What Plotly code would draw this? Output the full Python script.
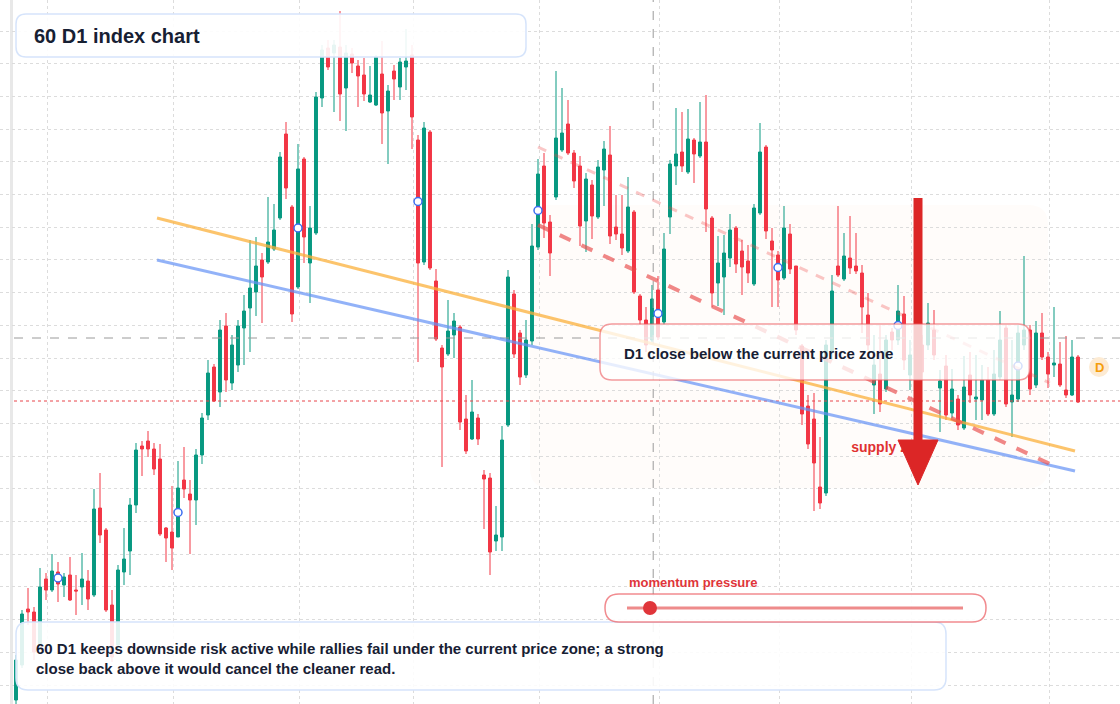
import plotly.graph_objects as go

# ---- data (index price units) ----
opens = [300,335,391,388,355,421,410,428,415,425,410,413,419,405,492,470,395,355,428,449,
         495,554,559,551,541,472,468,463,520,506,500,545,585,633,608,674,617,635,672,692,
         708,740,738,751,782,866,793,713,841,737,767,902,952,947,953,912,946,934,925,898,
         895,926,889,929,913,933,945,860,738,868,719,652,646,665,673,581,561,582,525,522,
         459,463,575,706,667,625,659,753,834,778,803,
         850,876,847,834,779,815,783,830,845,773,766,749,788,704,680,660,710,678,783,834,
         848,828,860,844,858,782,717,723,742,772,749,739,716,787,853,759,745,722,766,734,
         654,594,581,513,507,648,734,721,742,734,727,685,615,626,611,668,660,686,625,660,
         655,655,670,612,634,587,601,572,625,601,600,620,586,623,672,598,601,655,670,615,
         667,643,635,636,610,605,643]
closes = [340,386,388,348,413,410,429,416,423,400,409,421,401,491,465,390,343,430,441,495,
          550,551,551,531,466,462,452,512,511,500,545,582,627,599,670,620,655,674,689,712,
          734,723,758,770,843,812,686,831,763,772,903,950,933,955,906,947,937,924,906,905,
          943,887,909,921,938,939,883,737,872,732,661,633,669,679,578,549,588,561,521,448,
          465,560,723,646,623,660,754,826,777,747,862,
          867,847,819,774,821,784,833,851,764,766,752,793,708,680,655,701,663,751,836,846,
          834,861,846,858,791,707,737,747,770,736,733,727,792,848,769,750,720,772,731,670,
          586,556,537,497,655,709,725,744,732,729,693,655,635,596,660,660,689,640,645,620,
          628,677,645,619,585,611,575,613,605,603,620,586,626,660,596,605,667,670,611,667,
          643,626,637,615,605,643,598]
highs = [345,390,412,393,432,427,446,438,427,443,425,447,430,511,527,472,410,435,472,502,
         557,559,569,557,556,473,514,539,553,520,551,587,640,636,680,687,665,680,705,760,
         763,747,803,796,848,878,795,856,843,794,908,955,960,960,989,955,952,940,942,934,
         945,959,915,935,942,971,955,865,878,870,731,655,700,687,675,605,620,586,530,527,
         494,574,730,710,670,680,776,841,847,785,929,
         912,900,850,844,827,820,840,859,874,805,805,823,790,706,693,715,724,767,840,892,
         888,891,862,898,905,784,764,765,786,774,760,755,796,877,855,772,749,794,776,734,
         656,605,607,563,660,725,794,767,784,767,735,707,665,675,665,672,715,704,660,670,
         665,697,690,630,645,631,605,644,648,645,635,633,650,689,675,660,675,744,675,679,
         687,648,693,658,664,660,645]
lows = [296,332,375,340,350,400,408,398,403,399,385,395,390,403,457,388,338,350,415,425,
        487,524,543,525,464,438,430,463,502,446,475,536,580,598,593,608,610,628,635,648,
        684,677,736,749,780,801,678,711,737,697,765,893,930,888,879,869,927,893,899,897,
        894,856,836,900,900,910,851,638,735,730,659,533,644,642,570,546,560,555,471,425,
        449,449,573,642,615,622,655,750,762,724,800,
        848,845,812,754,748,761,781,794,756,760,745,747,706,675,648,658,660,675,766,815,
        828,826,817,842,768,693,694,685,733,727,705,717,714,785,761,693,693,720,726,665,
        575,551,489,491,504,640,723,719,726,726,667,650,586,588,608,650,655,630,610,605,
        620,650,640,568,580,582,570,570,597,580,580,584,584,620,593,563,598,650,605,612,
        640,612,623,613,602,604,597]
x_idx = list(range(len(closes)))

# chart-level reference values
last_price = 599
crosshair_price = 662
crosshair_index = 106.2
marker_every = 20
marker_start = 7
orange_line = [(23.5, 782), (176.5, 549)]
blue_line = [(23.5, 740), (176.5, 529)]
red_dash_faint = [(87, 853), (172.3, 617)]
red_dash_strong = [(87, 775), (172.7, 535)]
grid_x = [5.17, 26.3, 47.2, 66.3, 87.2, 107.2, 127.2, 149.3, 172.2]

W, H = 1120, 704
def px(x): return x / W
def py(y): return 1 - y / H

def rrect(x0, y0, x1, y1, r):
    def P(a, b): return f"{px(a):.5f},{py(b):.5f}"
    return (f"M {P(x0+r,y0)} L {P(x1-r,y0)} Q {P(x1,y0)} {P(x1,y0+r)} "
            f"L {P(x1,y1-r)} Q {P(x1,y1)} {P(x1-r,y1)} L {P(x0+r,y1)} "
            f"Q {P(x0,y1)} {P(x0,y1-r)} L {P(x0,y0+r)} Q {P(x0,y0)} {P(x0+r,y0)} Z")

GREEN, RED = "#089981", "#f23645"
fig = go.Figure()
fig.add_trace(go.Candlestick(
    x=x_idx, open=opens, high=highs, low=lows, close=closes,
    increasing=dict(line=dict(color=GREEN, width=1), fillcolor=GREEN),
    decreasing=dict(line=dict(color=RED, width=1), fillcolor=RED),
    whiskerwidth=0, showlegend=False, hoverinfo="skip"))

mk = list(range(marker_start, len(closes), marker_every))
fig.add_trace(go.Scatter(
    x=mk, y=[(opens[i] + closes[i]) / 2 for i in mk], mode="markers",
    marker=dict(symbol="circle", size=8, color="white", line=dict(color="#3b6df0", width=1.5)),
    showlegend=False, hoverinfo="skip"))

fig.add_trace(go.Scatter(
    x=[139.2], y=[552], mode="text", text=["<b>supply zone</b>"], textposition="middle right",
    textfont=dict(color="#e03131", size=14, family="Liberation Sans, Arial"),
    showlegend=False, hoverinfo="skip"))

shapes = []
shapes.append(dict(type="rect", xref="paper", yref="paper", x0=px(10), x1=px(13), y0=0, y1=1,
                   fillcolor="#e8e8e8", line=dict(width=0), layer="below"))
shapes.append(dict(type="path", xref="paper", yref="paper", path=rrect(530, 205, 1048, 488, 20),
                   fillcolor="rgba(251,146,60,0.025)", line=dict(width=0), layer="below"))
shapes.append(dict(type="line", xref="paper", yref="y", x0=px(14), x1=1, y0=crosshair_price, y1=crosshair_price,
                   line=dict(color="#9a9a9a", width=1, dash="dash")))
shapes.append(dict(type="line", xref="x", yref="paper", x0=crosshair_index, x1=crosshair_index, y0=0, y1=1,
                   line=dict(color="#9a9a9a", width=1, dash="dash")))
shapes.append(dict(type="line", xref="paper", yref="y", x0=px(14), x1=1, y0=last_price, y1=last_price,
                   line=dict(color="#e8454a", width=1, dash="dot")))
for pts, col, w, dash in [(orange_line, "rgba(251,176,59,0.75)", 3, "solid"),
                          (blue_line, "rgba(100,145,245,0.7)", 3, "solid"),
                          (red_dash_faint, "rgba(239,68,68,0.3)", 3, "dash"),
                          (red_dash_strong, "rgba(232,72,72,0.65)", 4, "dash")]:
    shapes.append(dict(type="line", xref="x", yref="y", x0=pts[0][0], y0=pts[0][1],
                       x1=pts[1][0], y1=pts[1][1], line=dict(color=col, width=w, dash=dash)))
shapes.append(dict(type="line", xref="paper", yref="paper", x0=px(918), x1=px(918), y0=py(198), y1=py(445),
                   line=dict(color="#dc2626", width=9)))
shapes.append(dict(type="path", xref="paper", yref="paper",
                   path=f"M {px(898)},{py(440)} L {px(938)},{py(440)} L {px(918)},{py(485)} Z",
                   fillcolor="#dc2626", line=dict(color="#dc2626", width=1)))
shapes.append(dict(type="path", xref="paper", yref="paper", path=rrect(16, 14, 526, 57, 10),
                   fillcolor="rgba(255,255,255,0.9)", line=dict(color="#d6e4fb", width=1.5)))
shapes.append(dict(type="path", xref="paper", yref="paper", path=rrect(16, 622, 946, 690, 12),
                   fillcolor="rgba(255,255,255,0.88)", line=dict(color="#d6e4fb", width=1.5)))
shapes.append(dict(type="path", xref="paper", yref="paper", path=rrect(600, 324, 1030, 380, 12),
                   fillcolor="rgba(255,255,255,0.78)", line=dict(color="rgba(235,90,95,0.6)", width=1.5)))
shapes.append(dict(type="path", xref="paper", yref="paper", path=rrect(605, 594, 986, 622, 14),
                   fillcolor="rgba(255,255,255,0.9)", line=dict(color="rgba(235,90,95,0.7)", width=1.5)))
shapes.append(dict(type="line", xref="paper", yref="paper", x0=px(627), x1=px(963), y0=py(608), y1=py(608),
                   line=dict(color="rgba(232,100,100,0.75)", width=3)))
shapes.append(dict(type="circle", xref="paper", yref="paper", x0=px(643), x1=px(657), y0=py(601), y1=py(615),
                   fillcolor="#e0353a", line=dict(width=0)))
shapes.append(dict(type="circle", xref="paper", yref="paper", x0=px(1089), x1=px(1109), y0=py(357), y1=py(377),
                   fillcolor="#fdebd3", line=dict(width=0)))

FONT = "Liberation Sans, Arial, sans-serif"
ann = [
    dict(x=px(32), y=py(36), text="<b>60 D1 index chart</b>", font=dict(size=20, color="#172033")),
    dict(x=px(622), y=py(353), text="<b>D1 close below the current price zone</b>", font=dict(size=15, color="#172033")),
    dict(x=px(34), y=py(658), text="<b>60 D1 keeps downside risk active while rallies fail under the current price zone; a strong<br>close back above it would cancel the cleaner read.</b>",
         font=dict(size=15, color="#172033"), align="left"),
    dict(x=px(627), y=py(582), text="<b>momentum pressure</b>", font=dict(size=13, color="#e0353a")),
    dict(x=px(1099), y=py(367), text="<b>D</b>", font=dict(size=13, color="#f59e0b"), xanchor="center"),
]
for a in ann:
    a.setdefault("xanchor", "left")
    a.update(xref="paper", yref="paper", yanchor="middle", showarrow=False)
    a["font"]["family"] = FONT

fig.update_layout(
    width=W, height=H, margin=dict(l=0, r=0, t=0, b=0),
    plot_bgcolor="white", paper_bgcolor="white",
    shapes=shapes, annotations=ann, showlegend=False,
    xaxis=dict(range=[-2.667, 184], tickvals=grid_x, showticklabels=False, showgrid=True,
               gridcolor="#dcdcdc", griddash="dot", zeroline=False, rangeslider=dict(visible=False),
               fixedrange=True),
    yaxis=dict(range=[296, 1000], tick0=969, dtick=32.7, showticklabels=False, showgrid=True,
               gridcolor="#dcdcdc", griddash="dot", zeroline=False),
)
fig.write_html("out.html", config={"displayModeBar": False})

with open("out.html", encoding="utf-8") as f:
    html = f.read()
html = html.replace("<head>", "<head><style>html,body{margin:0;padding:0;overflow:hidden;}</style>", 1)
with open("out.html", "w", encoding="utf-8") as f:
    f.write(html)
